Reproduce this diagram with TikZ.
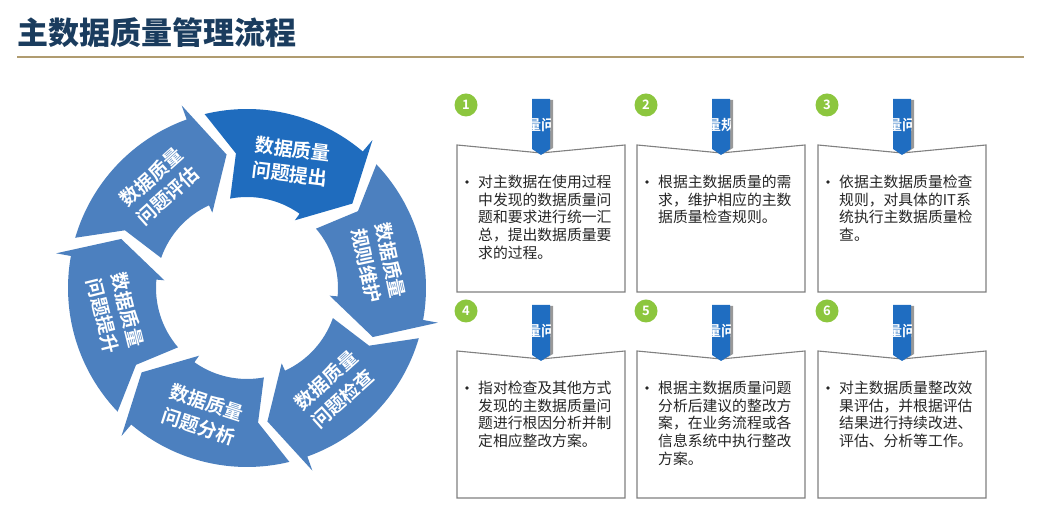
\documentclass[tikz,border=0pt]{standalone}
\usepackage{fontspec}
\setmainfont{Noto Sans CJK SC}[BoldFont={Noto Sans CJK SC Bold}]
\newfontfamily\titlefont{Noto Sans CJK SC Black}
\usepackage{xcolor}
\usetikzlibrary{calc,positioning}
\definecolor{ringblue}{HTML}{4C80BF}
\definecolor{topblue}{HTML}{1F6CBE}
\definecolor{tabblue}{HTML}{1F6DC1}
\definecolor{stepgreen}{HTML}{8CC63E}
\definecolor{titlenavy}{HTML}{1A3C5E}
\definecolor{ruletan}{HTML}{B09C70}
\definecolor{boxgrey}{HTML}{808080}
\tikzset{
  seglabel/.style={text=white, font=\bfseries\fontsize{19}{25}\selectfont, align=center, inner sep=0},
  panelbox/.style={draw=boxgrey, line width=1.1pt, fill=white},
  paneltext/.style={anchor=north west, inner sep=0, align=left, text=black!85, font=\fontsize{14.8}{17.6}\selectfont},
  stepnum/.style={circle, fill=stepgreen, text=white, minimum size=23pt, inner sep=0, font=\bfseries\fontsize{13}{13}\selectfont},
  tabtext/.style={text=white, inner sep=0, font=\bfseries\fontsize{14.5}{14.5}\selectfont}
}

\begin{document}
\begin{tikzpicture}[x=1pt,y=1pt]
  \useasboundingbox (0,0) rectangle (1046,526);

  % Title
  \node[anchor=west, inner sep=0, text=titlenavy, font=\titlefont\fontsize{31}{31}\selectfont] (title) at (17,493) {主数据质量管理流程};
  \coordinate (ruleL) at (17,469);
  \coordinate (ruleR) at (1024,469);
  \draw[ruletan, line width=2.4pt] (ruleL) -- (ruleR);

  % Cycle
  \begin{scope}[shift={(247,238)}]
    \foreach \tip/\col/\lbl/\rot [count=\i] in {38.7/topblue/{数据质量\\问题提出}/-7,
        -21.3/ringblue/{数据质量\\规则维护}/-78,
        -81.3/ringblue/{数据质量\\问题检查}/42,
        -141.3/ringblue/{数据质量\\问题分析}/-18,
        158.7/ringblue/{数据质量\\问题提升}/-76,
        98.7/ringblue/{数据质量\\问题评估}/42}{
      \fill[\col] (\tip+65:179) arc[start angle=\tip+65, end angle=\tip+11, radius=179] -- (\tip+11:194) -- (\tip:135) -- (\tip+16:83) -- (\tip+16:91) arc[start angle=\tip+16, end angle=\tip+62, radius=91] -- (\tip+56:135) -- cycle;
      \node[seglabel, rotate=\rot] (seg\i) at (\tip+32:134) {\lbl};
    }
  \end{scope}

  % Steps
  \foreach \bx/\by/\txt/\tabtxt [count=\i] in {457/381/{对主数据在使用过程\\中发现的数据质量问\\题和要求进行统一汇\\总，提出数据质量要\\求的过程。}/量问,
      637/381/{根据主数据质量的需\\求，维护相应的主数\\据质量检查规则。}/量规,
      818/381/{依据主数据质量检查\\规则，对具体的IT系\\统执行主数据质量检\\查。}/量问,
      457/175/{指对检查及其他方式\\发现的主数据质量问\\题进行根因分析并制\\定相应整改方案。}/量问,
      637/175/{根据主数据质量问题\\分析后建议的整改方\\案，在业务流程或各\\信息系统中执行整改\\方案。}/量问,
      818/175/{对主数据质量整改效\\果评估，并根据评估\\结果进行持续改进、\\评估、分析等工作。}/量问}{
    \draw[panelbox] (\bx,\by) -- (\bx+84,\by-8) -- (\bx+168,\by) -- (\bx+168,\by-147) -- (\bx,\by-147) -- cycle;
    \fill[black!40] (\bx+77,\by+45) -- (\bx+96,\by+45) -- (\bx+96,\by-3) -- (\bx+86,\by-9) -- (\bx+77,\by-3) -- cycle;
    \fill[tabblue] (\bx+75,\by+46) -- (\bx+93,\by+46) -- (\bx+93,\by-4) -- (\bx+84,\by-10) -- (\bx+75,\by-4) -- cycle;
    \begin{scope}
      \clip (\bx+75,\by+46) rectangle (\bx+93,\by-10);
      \node[tabtext] (tab\i) at (\bx+84,\by+20) {\tabtxt};
    \end{scope}
    \node[stepnum] (num\i) at (\bx+9,\by+40) {\i};
    \fill[black!85] (\bx+10,\by-37) circle (1.8);
    \node[paneltext] (txt\i) at (\bx+21,\by-30) {\txt};
  }
\end{tikzpicture}
\end{document}
